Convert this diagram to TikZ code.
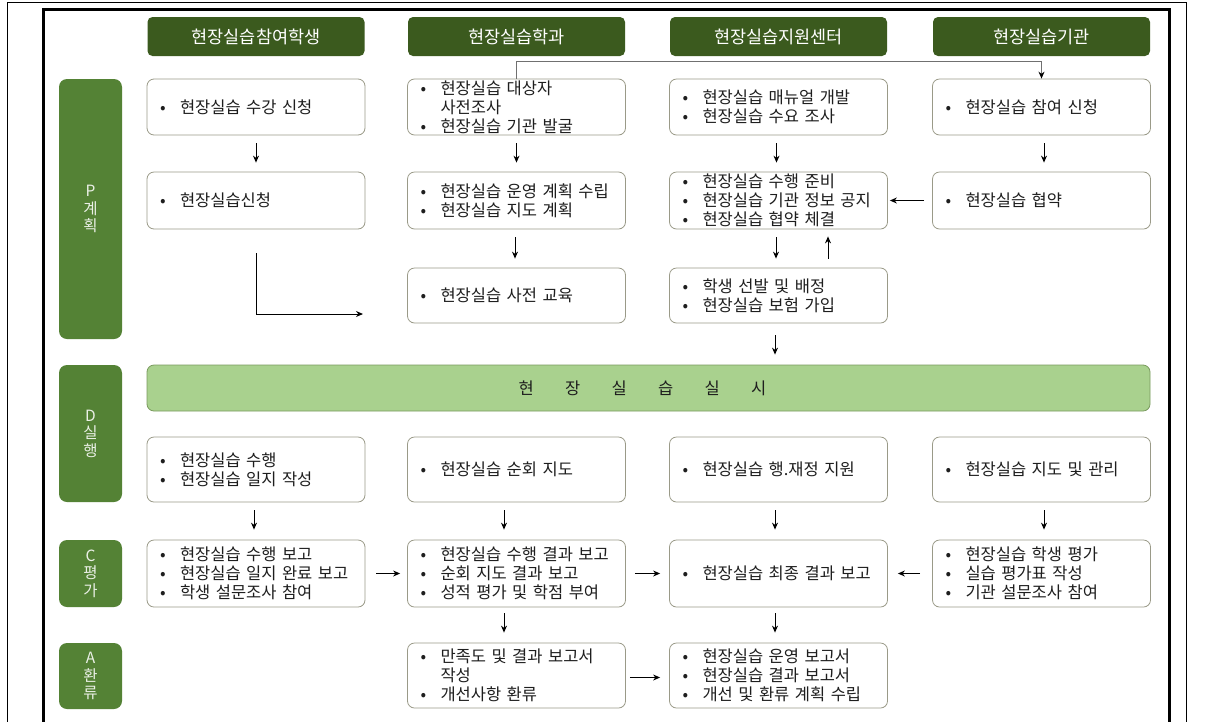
\documentclass[tikz,border=0pt]{standalone}
\usepackage{fontspec}
\setmainfont{Noto Sans CJK KR}
\usetikzlibrary{arrows.meta,calc}
\definecolor{hdrgreen}{HTML}{3B5A1E}
\definecolor{phgreen}{HTML}{548235}
\definecolor{bandgreen}{HTML}{A9D18E}
\definecolor{bandline}{HTML}{7A9A5E}
\definecolor{boxline}{HTML}{9A9A88}
\definecolor{txt}{HTML}{1E1E1E}
\definecolor{connline}{HTML}{707070}
\newcommand\bl{\hspace*{8pt}\makebox[20pt][l]{•}}
\newcommand\ind{\hspace*{28pt}}
\newcommand\boxfont{\fontsize{16.5}{19}\selectfont\spaceskip=0.57em\relax}
\newcommand\hdrfont{\fontsize{17.5}{20}\selectfont}
\newcommand\bandfont{\fontsize{16.5}{20}\selectfont}
\newcommand\phfont{\fontsize{15.5}{17.5}\selectfont}
\begin{document}
\begin{tikzpicture}[x=1pt,y=-1pt,
 hdr/.style={fill=hdrgreen, rounded corners=5pt, minimum width=217pt, minimum height=39pt, text=white, font=\hdrfont, inner sep=0pt},
 phase/.style={fill=phgreen, rounded corners=8pt, minimum width=63pt, text=white!88!phgreen, font=\phfont, align=center, inner sep=0pt},
 box/.style={draw=boxline, line width=0.8pt, fill=white, rounded corners=7pt, text width=208pt, inner xsep=5pt, inner ysep=0pt, align=left, text=txt, font=\boxfont},
 arr/.style={-{Stealth[length=7pt,width=6pt]}, line width=1pt, black},
]
\useasboundingbox (0,0) rectangle (1209,721);
\clip (0,0) rectangle (1209,721);
\fill[white] (0,0) rectangle (1209,721);
% frames
\draw[line width=0.8pt] (7,722) -- (7,2) -- (1186,2) -- (1186,722);
\draw[line width=3pt] (43,722) -- (43,9) -- (1169,9) -- (1169,722);

% headers
\node[hdr] (h1) at (256,36.5) {현장실습참여학생};
\node[hdr] (h2) at (516.5,36.5) {현장실습학과};
\node[hdr] (h3) at (778.5,36.5) {현장실습지원센터};
\node[hdr] (h4) at (1041.5,36.5) {현장실습기관};

% phases
\node[phase, minimum height=260pt] (pP) at (90.5,209) {P\\계\\획};
\node[phase, minimum height=137pt] (pD) at (90.5,433.5) {D\\실\\행};
\node[phase, minimum height=67pt] (pC) at (90.5,573.5) {C\\평\\가};
\node[phase, minimum height=66pt] (pA) at (90.5,676) {A\\환\\류};

% row P1
\node[box, minimum height=56pt] (p11) at (256,107) {\bl 현장실습 수강 신청};
\node[box, minimum height=56pt] (p12) at (516.5,107) {\bl 현장실습 대상자\\\ind 사전조사\\\bl 현장실습 기관 발굴};
\node[box, minimum height=56pt] (p13) at (778.5,107) {\bl 현장실습 매뉴얼 개발\\\bl 현장실습 수요 조사};
\node[box, minimum height=56pt] (p14) at (1041.5,107) {\bl 현장실습 참여 신청};

% row P2
\node[box, minimum height=57pt] (p21) at (256,200.5) {\bl 현장실습신청};
\node[box, minimum height=57pt] (p22) at (516.5,200.5) {\bl 현장실습 운영 계획 수립\\\bl 현장실습 지도 계획};
\node[box, minimum height=57pt] (p23) at (778.5,200.5) {\bl 현장실습 수행 준비\\\bl 현장실습 기관 정보 공지\\\bl 현장실습 협약 체결};
\node[box, minimum height=57pt] (p24) at (1041.5,200.5) {\bl 현장실습 협약};

% row P3
\node[box, minimum height=55pt] (p32) at (516.5,295.5) {\bl 현장실습 사전 교육};
\node[box, minimum height=55pt] (p33) at (778.5,295.5) {\bl 학생 선발 및 배정\\\bl 현장실습 보험 가입};

% band
\node[draw=bandline, line width=0.8pt, fill=bandgreen, rounded corners=7pt, minimum width=1003pt, minimum height=46pt, font=\bandfont, text=txt, inner sep=0pt] (band) at (648.5,388)
 {\makebox[46.5pt]{현}\makebox[46.5pt]{장}\makebox[46.5pt]{실}\makebox[46.5pt]{습}\makebox[46.5pt]{실}\makebox[46.5pt]{시}\hspace*{12pt}};

% row D
\node[box, minimum height=65pt] (d1) at (256,469.5) {\bl 현장실습 수행\\\bl 현장실습 일지 작성};
\node[box, minimum height=65pt] (d2) at (516.5,469.5) {\bl 현장실습 순회 지도};
\node[box, minimum height=65pt] (d3) at (778.5,469.5) {\bl 현장실습 행.재정 지원};
\node[box, minimum height=65pt] (d4) at (1041.5,469.5) {\bl 현장실습 지도 및 관리};

% row C
\node[box, minimum height=67pt] (c1) at (256,573.5) {\bl 현장실습 수행 보고\\\bl 현장실습 일지 완료 보고\\\bl 학생 설문조사 참여};
\node[box, minimum height=67pt] (c2) at (516.5,573.5) {\bl 현장실습 수행 결과 보고\\\bl 순회 지도 결과 보고\\\bl 성적 평가 및 학점 부여};
\node[box, minimum height=67pt] (c3) at (778.5,573.5) {\bl 현장실습 최종 결과 보고};
\node[box, minimum height=67pt] (c4) at (1041.5,573.5) {\bl 현장실습 학생 평가\\\bl 실습 평가표 작성\\\bl 기관 설문조사 참여};

% row A
\node[box, minimum height=65pt] (a2) at (516.5,675.5) {\bl 만족도 및 결과 보고서\\\ind 작성\\\bl 개선사항 환류};
\node[box, minimum height=65pt] (a3) at (778.5,675.5) {\bl 현장실습 운영 보고서\\\bl 현장실습 결과 보고서\\\bl 개선 및 환류 계획 수립};

% connectors
\draw[connline, line width=1pt, -{Stealth[length=7pt,width=6pt,black]}] (p12.north) -- ++(0,-17) -| (p14.north);

\draw[arr, shorten <=8pt, shorten >=9pt] (p11.south) -- (p21.north);
\draw[arr, shorten <=8pt, shorten >=9pt] (p12.south) -- (p22.north);
\draw[arr, shorten <=8pt, shorten >=9pt] ([xshift=-2pt]p13.south) -- ([xshift=-2pt]p23.north);
\draw[arr, shorten <=8pt, shorten >=9pt] ([xshift=2.5pt]p14.south) -- ([xshift=2.5pt]p24.north);
\draw[arr, shorten <=8pt, shorten >=2pt] (p24.west) -- (p23.east);

\coordinate (lend) at (363,314);
\draw[arr] ([yshift=-24pt]p21.south) |- (lend);

\draw[arr, shorten <=8pt, shorten >=9pt] ([xshift=-1.5pt]p22.south) -- ([xshift=-1.5pt]p32.north);
\draw[arr, shorten <=8pt, shorten >=9pt] ([xshift=-2.5pt]p23.south) -- ([xshift=-2.5pt]p33.north);
\draw[arr, shorten <=9pt, shorten >=7pt] ([xshift=49.5pt]p33.north) -- ([xshift=49.5pt]p23.south);
\draw[arr, shorten <=12pt, shorten >=10pt] ([xshift=-3.5pt]p33.south) -- ([xshift=-3.5pt]p33.south |- band.north);

\draw[arr, shorten <=8pt, shorten >=10pt] ([xshift=-2pt]d1.south) -- ([xshift=-2pt]c1.north);
\draw[arr, shorten <=8pt, shorten >=10pt] ([xshift=-12.5pt]d2.south) -- ([xshift=-12.5pt]c2.north);
\draw[arr, shorten <=8pt, shorten >=10pt] ([xshift=-3.5pt]d3.south) -- ([xshift=-3.5pt]c3.north);
\draw[arr, shorten <=8pt, shorten >=10pt] ([xshift=2.5pt]d4.south) -- ([xshift=2.5pt]c4.north);

\draw[arr, shorten <=11pt, shorten >=7pt] (c1.east) -- (c2.west);
\draw[arr, shorten <=9pt, shorten >=9pt] (c2.east) -- (c3.west);
\draw[arr, shorten <=12pt, shorten >=10pt] (c4.west) -- (c3.east);

\draw[arr, shorten <=6pt, shorten >=10pt] ([xshift=-12.5pt]c2.south) -- ([xshift=-12.5pt]a2.north);
\draw[arr, shorten <=6pt, shorten >=10pt] ([xshift=-3.5pt]c3.south) -- ([xshift=-3.5pt]a3.north);
\draw[arr, shorten <=4pt, shorten >=9pt] ([yshift=-2pt]a2.east) -- ([yshift=-2pt]a3.west);
\end{tikzpicture}
\end{document}
